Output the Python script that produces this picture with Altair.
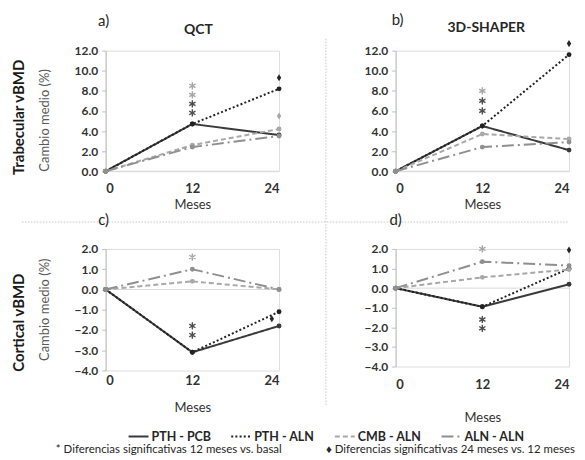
import altair as alt
import pandas as pd

# ---------------- data ----------------
months = [0, 12, 24]
groups = ["PTH - PCB", "PTH - ALN", "CMB - ALN", "ALN - ALN"]

# a) QCT - trabecular vBMD (one list per group, values at 0/12/24 months)
qct_trab = [[0.0, 4.7, 3.6], [0.0, 4.7, 8.2], [0.0, 2.6, 4.2], [0.0, 2.4, 3.5]]
# b) 3D-SHAPER - trabecular vBMD
shp_trab = [[0.0, 4.5, 2.1], [0.0, 4.5, 11.6], [0.0, 3.7, 3.2], [0.0, 2.4, 2.9]]
# c) QCT - cortical vBMD
qct_cort = [[0.0, -3.1, -1.8], [0.0, -3.1, -1.1], [0.0, 0.4, 0.0], [0.0, 1.0, 0.0]]
# d) 3D-SHAPER - cortical vBMD
shp_cort = [[0.0, -0.95, 0.2], [0.0, -0.95, 1.0], [0.0, 0.55, 0.95], [0.0, 1.35, 1.15]]

# significance marks: * (12 m vs basal) and diamond (24 m vs 12 m)
qct_trab_star_y = [8.5, 7.6, 6.7, 5.8]
qct_trab_star_tone = ["light", "light", "dark", "dark"]
shp_trab_star_y = [8.0, 7.0, 6.0]
shp_trab_star_tone = ["light", "dark", "dark"]
qct_cort_star_y = [1.6, -1.8, -2.25]
qct_cort_star_tone = ["light", "dark", "dark"]
shp_cort_star_y = [2.0, -1.6, -2.05]
shp_cort_star_tone = ["light", "dark", "dark"]

qct_trab_diam_x = [24, 24]
qct_trab_diam_y = [9.3, 5.5]
qct_trab_diam_tone = ["dark", "light"]
shp_trab_diam_x = [24]
shp_trab_diam_y = [12.7]
shp_trab_diam_tone = ["dark"]
qct_cort_diam_x = [23.0]
qct_cort_diam_y = [-1.45]
qct_cort_diam_tone = ["dark"]
shp_cort_diam_x = [24]
shp_cort_diam_y = [1.95]
shp_cort_diam_tone = ["dark"]

trab_ticks = [0, 2, 4, 6, 8, 10, 12]
cort_ticks = [-4, -3, -2, -1, 0, 1, 2]

x_title = "Meses"
y_title = "Cambio medio (%)"
row_titles = ["Trabecular vBMD", "Cortical vBMD"]
col_titles = ["QCT", "3D-SHAPER"]
panel_letters = ["a)", "b)", "c)", "d)"]
note_star = "* Diferencias significativas 12 meses vs. basal"
note_diam = "\u2666 Diferencias significativas 24 meses vs. 12 meses"

# ---------------- styles ----------------
FONT = "Lato"
line_colors = ["#3a3a3a", "#222222", "#a8a8a8", "#8f8f8f"]
line_dashes = [[1, 0], [2, 2.2], [5, 3], [12, 4, 2, 4]]
tone_colors = {"light": "#a6a6a6", "dark": "#4d4d4d"}
STAR = "M0,-1L0,1M-0.866,-0.5L0.866,0.5M-0.866,0.5L0.866,-0.5"
DIAM = "M0,-1L0.62,0L0,1L-0.62,0Z"
W = 174

LEGEND = alt.Legend(title=None, orient="none", legendX=22, legendY=376, direction="horizontal",
                    columns=4, symbolType="stroke", symbolStrokeWidth=2, symbolSize=400,
                    labelFont=FONT, labelFontSize=12.5, labelFontWeight="bold",
                    labelColor="#262626", columnPadding=16, labelOffset=2)


def dummy():
    return pd.DataFrame({"k": [0]})


def text(t, x, y, **kw):
    base = dict(font=FONT, fontSize=13, color="#262626", align="center", baseline="middle")
    base.update(kw)
    return alt.Chart(dummy()).mark_text(text=t, **base).encode(x=alt.value(x), y=alt.value(y))


def panel(series, star_y, star_tone, dx, dy, dtone, ydom, yvals, h, lab_pad, tit_pad, extras):
    rows = []
    for g, vals in zip(groups, series):
        for m, v in zip(months, vals):
            rows.append({"Meses": m, "Grupo": g, "v": v})
    df = pd.DataFrame(rows)

    X = alt.X("Meses:Q", scale=alt.Scale(domain=[0, 24], nice=False, zero=False),
              axis=alt.Axis(values=months, title=x_title, domain=False, ticks=False, grid=False,
                            labelPadding=lab_pad, titlePadding=tit_pad, labelFont=FONT,
                            labelFontSize=13, labelFontWeight="bold", labelColor="#333333",
                            titleFont=FONT, titleFontSize=13, titleFontWeight="normal",
                            titleColor="#333333", format="d"))
    Y = alt.Y("v:Q", scale=alt.Scale(domain=ydom, nice=False, zero=False),
              axis=alt.Axis(values=yvals, format=".1f", title=None, grid=False,
                            domainColor="#bfbfbf", tickColor="#bfbfbf", tickSize=4,
                            labelPadding=4, labelFont=FONT, labelFontSize=12,
                            labelFontWeight="bold", labelColor="#333333"))
    color = alt.Color("Grupo:N", scale=alt.Scale(domain=groups, range=line_colors), legend=LEGEND)
    dash = alt.StrokeDash("Grupo:N", scale=alt.Scale(domain=groups, range=line_dashes), legend=LEGEND)

    zero = alt.Chart(pd.DataFrame({"v": [0]})).mark_rule(color="#d9d9d9", strokeWidth=1).encode(
        y=Y, x=alt.value(0), x2=alt.value(W))
    lines = alt.Chart(df).mark_line(strokeWidth=2).encode(x=X, y=Y, color=color, strokeDash=dash)
    pts = alt.Chart(df).mark_point(filled=True, size=24, opacity=1, shape="circle").encode(
        x=X, y=Y, color=color)

    layers = [zero, lines, pts]
    for tone in ["light", "dark"]:
        sd = pd.DataFrame({"Meses": [12] * len(star_y), "v": star_y, "tone": star_tone})
        sd = sd[sd["tone"] == tone]
        if len(sd):
            layers.append(alt.Chart(sd).mark_point(shape=STAR, filled=False, size=52, strokeWidth=1.4,
                                                   color=tone_colors[tone], opacity=1).encode(x=X, y=Y))
        dd = pd.DataFrame({"Meses": dx, "v": dy, "tone": dtone})
        dd = dd[dd["tone"] == tone]
        if len(dd):
            layers.append(alt.Chart(dd).mark_point(shape=DIAM, filled=True, size=50,
                                                   color="#262626" if tone == "dark" else tone_colors[tone],
                                                   opacity=1).encode(x=X, y=Y))
    layers += extras
    return alt.layer(*layers).properties(width=W, height=h)


sep = dict(color="#c8c8c8", strokeDash=[1.5, 1.5], strokeWidth=1)

a = panel(qct_trab, qct_trab_star_y, qct_trab_star_tone, qct_trab_diam_x, qct_trab_diam_y,
          qct_trab_diam_tone, [0, 12], trab_ticks, 121, 11, 3, [
              text(panel_letters[0], -2, -30, fontSize=15),
              text(col_titles[0], 93, -21, fontSize=14, fontWeight="bold"),
              text(y_title, -61, 70, angle=270, color="#595959"),
              text(row_titles[0], -87, 67, angle=270, fontSize=15, fontWeight="bold", color="#1a1a1a"),
          ])
b = panel(shp_trab, shp_trab_star_y, shp_trab_star_tone, shp_trab_diam_x, shp_trab_diam_y,
          shp_trab_diam_tone, [0, 12], trab_ticks, 121, 11, 3, [
              text(panel_letters[1], 2, -31, fontSize=15),
              text(col_titles[1], 91, -23, fontSize=14, fontWeight="bold"),
              alt.Chart(dummy()).mark_rule(**sep).encode(x=alt.value(-70), y=alt.value(-12), y2=alt.value(356)),
          ])
c = panel(qct_cort, qct_cort_star_y, qct_cort_star_tone, qct_cort_diam_x, qct_cort_diam_y,
          qct_cort_diam_tone, [-4, 2], cort_ticks, 122, 4, 14, [
              alt.Chart(dummy()).mark_rule(**sep).encode(x=alt.value(-84), x2=alt.value(465), y=alt.value(-27)),
              text(panel_letters[2], -2, -29, fontSize=15),
              text(y_title, -61, 61, angle=270, color="#595959"),
              text(row_titles[1], -87, 74, angle=270, fontSize=15, fontWeight="bold", color="#1a1a1a"),
              text(note_star, -50, 202, align="left", fontSize=11.5),
              text(note_diam, 221, 202, align="left", fontSize=11.5),
          ])
d = panel(shp_cort, shp_cort_star_y, shp_cort_star_tone, shp_cort_diam_x, shp_cort_diam_y,
          shp_cort_diam_tone, [-4, 2], cort_ticks, 118, 12, 20, [
              text(panel_letters[3], 0, -29, fontSize=15),
          ])

chart = alt.concat(a, b, c, d, columns=2, spacing={"row": 78, "column": 117}, bounds="flush",
                   padding={"left": 3, "top": 3, "right": 0, "bottom": 0}).configure_view(
    stroke=None).configure(font=FONT, background="white")

chart.save("out.html", embed_options={"renderer": "svg", "actions": False})
